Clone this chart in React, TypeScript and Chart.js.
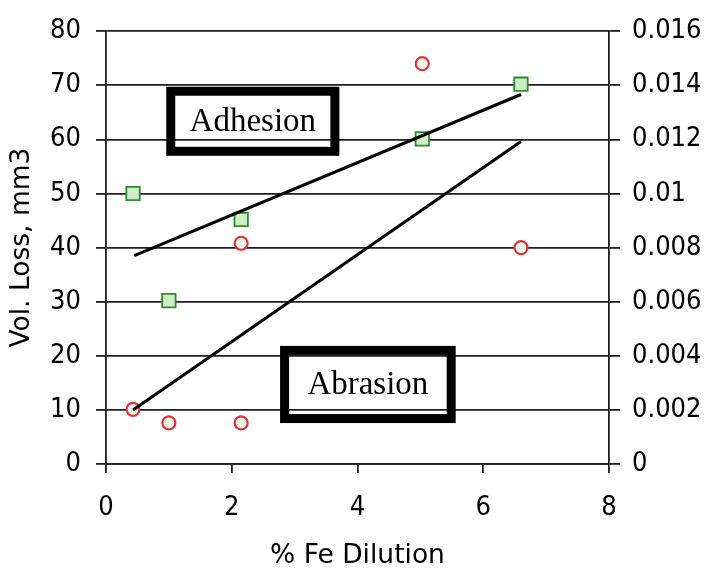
import React, { useEffect, useRef } from "react";
import { Chart, registerables } from "chart.js";

Chart.register(...registerables);

// Adhesion (green squares)
const adhesionX = [0.43, 1.0, 2.15, 5.03, 6.6];
const adhesionY = [50, 30.2, 45.2, 60.1, 70.2];
// Abrasion (red circles)
const abrasionX = [0.43, 1.0, 2.15, 2.15, 5.03, 6.6];
const abrasionY = [10.1, 7.6, 7.6, 40.8, 74.0, 40.0];
// Trend lines
const adhesionTrendX = [0.45, 6.6];
const adhesionTrendY = [38.5, 68.3];
const abrasionTrendX = [0.43, 6.6];
const abrasionTrendY = [10, 59.6];

const boxLabels = ["Adhesion", "Abrasion"];

const leftTicks = [0, 10, 20, 30, 40, 50, 60, 70, 80];
const rightTicks = ["0", "0.002", "0.004", "0.006", "0.008", "0.01", "0.012", "0.014", "0.016"];

const xTitle = "% Fe Dilution";
const yTitle = "Vol. Loss, mm3";

const pts = (xs: number[], ys: number[]) => xs.map((x, i) => ({ x, y: ys[i] }));

const FONT = "'DejaVu Sans Condensed', 'DejaVu Sans', Verdana, sans-serif";
const TITLE_FONT = "'DejaVu Sans', Verdana, sans-serif";
const GRID = "#1e1e1e";

const boxPlugin = {
  id: "boxes",
  afterDatasetsDraw(chart: any) {
    const { ctx, scales } = chart;
    const xs = scales.x;
    const ys = scales.y;
    const boxes = [
      { x0: 1.03, x1: 3.64, y0: 68.9, y1: 57.8, label: boxLabels[0] },
      { x0: 2.84, x1: 5.49, y0: 21.0, y1: 8.4, label: boxLabels[1] },
    ];
    ctx.save();
    for (const b of boxes) {
      const l = xs.getPixelForValue(b.x0);
      const r = xs.getPixelForValue(b.x1);
      const t = ys.getPixelForValue(b.y0);
      const bt = ys.getPixelForValue(b.y1);
      ctx.lineWidth = 9;
      ctx.strokeStyle = "#000";
      ctx.strokeRect(l, t, r - l, bt - t);
      ctx.fillStyle = "#000";
      ctx.font = "33px 'Liberation Serif', 'Times New Roman', serif";
      ctx.textAlign = "center";
      ctx.textBaseline = "middle";
      ctx.fillText(b.label, (l + r) / 2, (t + bt) / 2 + 1);
    }
    ctx.restore();
  },
};

export default function App() {
  const ref = useRef<HTMLCanvasElement>(null);
  useEffect(() => {
    document.body.style.margin = "0";
    const chart = new Chart(ref.current!, {
      type: "scatter",
      data: {
        datasets: [
          {
            label: "Adhesion",
            data: pts(adhesionX, adhesionY),
            pointStyle: "rect",
            pointRadius: 9.5,
            pointBorderWidth: 1.8,
            borderColor: "#2f8a2f",
            backgroundColor: "#cdeec6",
            yAxisID: "y",
            order: 2,
          },
          {
            label: "Abrasion",
            data: pts(abrasionX, abrasionY),
            pointStyle: "circle",
            pointRadius: 6.5,
            pointBorderWidth: 2.2,
            borderColor: "#e2303c",
            backgroundColor: "#eef8ea",
            yAxisID: "y",
            order: 2,
          },
          {
            label: "Adhesion trend",
            data: pts(adhesionTrendX, adhesionTrendY),
            showLine: true,
            pointRadius: 0,
            borderColor: "#000",
            borderWidth: 3,
            yAxisID: "y",
            order: 1,
          },
          {
            label: "Abrasion trend",
            data: pts(abrasionTrendX, abrasionTrendY),
            showLine: true,
            pointRadius: 0,
            borderColor: "#000",
            borderWidth: 3,
            yAxisID: "y",
            order: 1,
          },
        ],
      },
      options: {
        responsive: false,
        animation: false,
        layout: { padding: { top: 25, left: 0, right: 0, bottom: 0 } },
        plugins: { legend: { display: false }, tooltip: { enabled: false } },
        scales: {
          x: {
            type: "linear",
            min: 0,
            max: 8,
            ticks: { stepSize: 2, color: "#000", font: { family: FONT, size: 27 }, padding: 19 },
            grid: { drawOnChartArea: false, drawTicks: true, tickLength: 9, color: GRID, lineWidth: 1.8 },
            border: { display: true, color: GRID, width: 1.8 },
            title: { display: true, text: xTitle, color: "#000", font: { family: TITLE_FONT, size: 26.5, lineHeight: 1 }, padding: { top: 0, bottom: 0 } },
            afterFit(s: any) { s.height = 105; },
          },
          y: {
            type: "linear",
            position: "left",
            min: 0,
            max: 80,
            afterBuildTicks(s: any) { s.ticks = leftTicks.map((v) => ({ value: v })); },
            ticks: { color: "#000", font: { family: FONT, size: 27 }, padding: 15 },
            grid: { drawTicks: true, tickLength: 10, color: GRID, lineWidth: 1.8 },
            border: { display: true, color: GRID, width: 1.8 },
            title: { display: true, text: yTitle, color: "#000", font: { family: TITLE_FONT, size: 26.5, lineHeight: 1 }, padding: { top: 9, bottom: 0 } },
            afterFit(s: any) { s.width = 106; },
          },
          y2: {
            type: "linear",
            position: "right",
            min: 0,
            max: 0.016,
            afterBuildTicks(s: any) { s.ticks = rightTicks.map((v) => ({ value: parseFloat(v) })); },
            ticks: {
              color: "#000",
              font: { family: FONT, size: 27 },
              padding: 12,
              callback: (v: any) => rightTicks.find((t) => Math.abs(parseFloat(t) - v) < 1e-9) ?? String(v),
            },
            grid: { drawOnChartArea: false, drawTicks: true, tickLength: 11, color: GRID, lineWidth: 1.8 },
            border: { display: true, color: GRID, width: 1.8 },
            afterFit(s: any) { s.width = 97; },
          },
        },
      },
      plugins: [boxPlugin],
    });
    return () => chart.destroy();
  }, []);
  return (
    <div style={{ width: 706, height: 569 }}>
      <canvas ref={ref} width={706} height={569} style={{ display: "block" }} />
    </div>
  );
}
